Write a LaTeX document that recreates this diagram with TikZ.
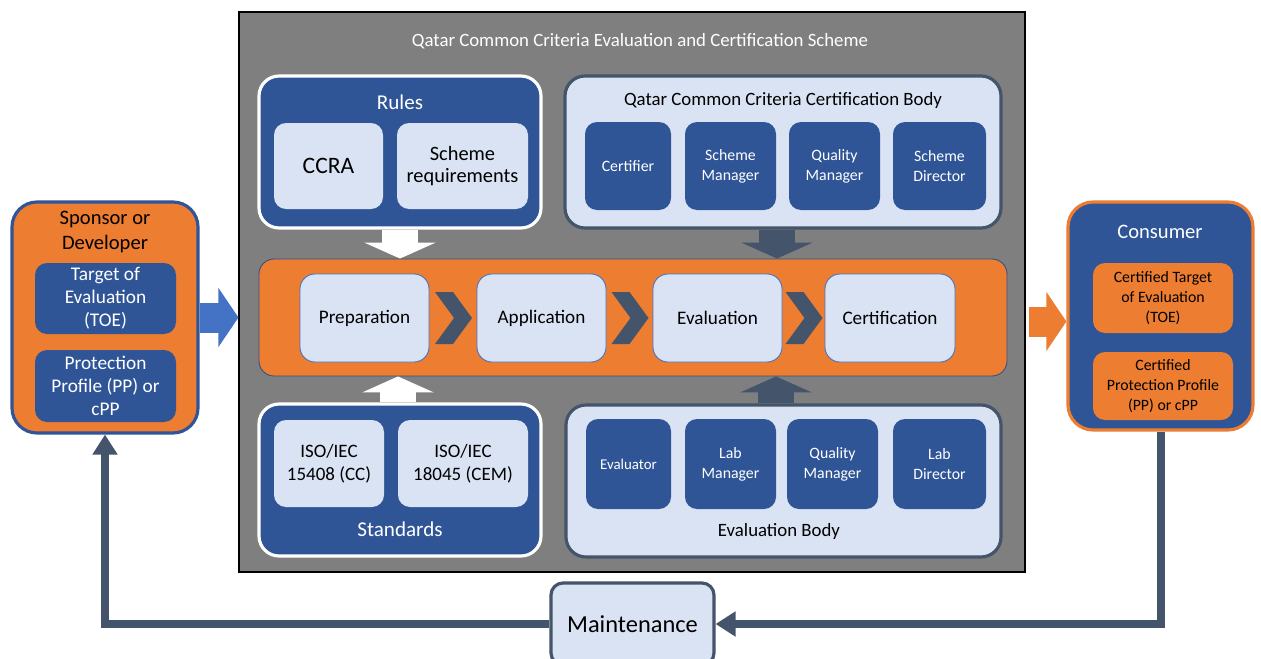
\documentclass[tikz,border=0pt]{standalone}
\usepackage{fontspec}
\setmainfont{Carlito}
\usetikzlibrary{calc,arrows.meta}

\definecolor{qblue}{HTML}{2F5597}
\definecolor{qlight}{HTML}{DAE3F3}
\definecolor{qorange}{HTML}{ED7D31}
\definecolor{qslate}{HTML}{44546A}
\definecolor{qgray}{HTML}{7F7F7F}
\definecolor{qarrow}{HTML}{4472C4}

\tikzset{
  sz/.style 2 args={minimum width=#1*0.2mm, minimum height=#2*0.2mm},
  darkgroup/.style={fill=qblue, draw=white, line width=1.8pt, rounded corners=4mm},
  lightgroup/.style={fill=qlight, draw=qslate, line width=1.8pt, rounded corners=4mm},
  lightitem/.style={fill=qlight, rounded corners=2.4mm, text=black},
  roleitem/.style={fill=qblue, rounded corners=2.4mm, text=white, font=\fontsize{9}{11.3}\selectfont},
  stage/.style={fill=qlight, draw=qarrow, line width=0.5pt, rounded corners=3mm, font=\fontsize{10.9}{12}\selectfont},
  heading/.style={font=\fontsize{10.7}{12}\selectfont},
  blockarrow/.style={line width=7.2mm, -{Triangle[width=14.2mm, length=3.2mm]}},
  sidearrow/.style={line width=6mm, -{Triangle[width=11.6mm, length=4mm]}},
  feedback/.style={draw=qslate, line width=1.6mm, -{Triangle[width=4.8mm, length=4mm]}}
}

\begin{document}
\begin{tikzpicture}[x=0.2mm, y=-0.2mm, every node/.style={inner sep=0pt, align=center}]
\useasboundingbox (0,0) rectangle (1261,659);

% the scheme
\node[fill=qgray, draw=black, line width=0.6pt, sz={786}{560}] (scheme) at (632,292) {};
\node[heading, text=white] (schemetitle) at (640,41) {Qatar Common Criteria Evaluation and Certification Scheme};

% rules
\node[darkgroup, sz={282}{152}] (rules) at (400,152) {};
\node[text=white, font=\fontsize{12}{14}\selectfont] (rulestitle) at (400,102) {Rules};
\node[lightitem, sz={109}{86}, font=\fontsize{13.4}{15}\selectfont] (ccra) at (328.5,166) {CCRA};
\node[lightitem, sz={131}{86}, font=\fontsize{11.6}{13}\selectfont] (schreq) at (462.5,166) {Scheme\\requirements};

% certification body
\node[lightgroup, sz={436}{152}] (certbody) at (783,152) {};
\node[heading] (certbodytitle) at (783,100) {Qatar Common Criteria Certification Body};
\node[roleitem, sz={86}{88}] (certifier) at (628,166) {Certifier};
\node[roleitem, sz={91}{88}] (schmgr) at (730.5,166) {Scheme\\Manager};
\node[roleitem, sz={91}{88}] (qualmgr) at (834.5,166) {Quality\\Manager};
\node[roleitem, sz={93}{88}] (schdir) at (939.5,166) {Scheme\\Director};

% process
\node[fill=qorange, draw=qarrow!70!black, line width=0.5pt, rounded corners=3mm, sz={748}{117}] (band) at (633,317.5) {};
\node[stage, sz={129}{88}] (prep) at (364.5,318) {Preparation};
\node[stage, sz={129}{88}] (appl) at (541.5,318) {Application};
\node[stage, sz={129}{88}] (evalu) at (717.5,318) {Evaluation};
\node[stage, sz={130}{88}] (cert) at (890,318) {Certification};
\foreach \a/\b in {prep/appl, appl/evalu, evalu/cert}
  \fill[qslate] ($(\a.east)!.5!(\b.west)+(-18,-26)$) -- ++(18,0) -- ++(19,26) -- ++(-19,26) -- ++(-18,0) -- ++(19,-26) -- cycle;

% standards
\node[darkgroup, sz={282}{152}] (standards) at (400,480) {};
\node[lightitem, sz={110}{87}, font=\fontsize{10.8}{13}\selectfont] (iso1) at (329,463.5) {ISO/IEC\\15408 (CC)};
\node[lightitem, sz={130}{87}, font=\fontsize{10.8}{13}\selectfont] (iso2) at (463,463.5) {ISO/IEC\\18045 (CEM)};
\node[text=white, font=\fontsize{12}{14}\selectfont] (standardstitle) at (400,529) {Standards};

% evaluation body
\node[lightgroup, sz={435}{152}] (evalbody) at (783.5,481) {};
\node[roleitem, sz={85}{90}, font=\fontsize{8.5}{11}\selectfont] (evaluator) at (628.5,464) {Evaluator};
\node[roleitem, sz={91}{90}] (labmgr) at (730.5,464) {Lab\\Manager};
\node[roleitem, sz={91}{90}] (qmgr) at (832.5,464) {Quality\\Manager};
\node[roleitem, sz={93}{90}] (labdir) at (939.5,464) {Lab\\Director};
\node[heading] (evalbodytitle) at (779,531) {Evaluation Body};

% sponsor and consumer
\node[fill=qorange, draw=qblue, line width=1.8pt, rounded corners=5mm, sz={186}{231}] (sponsor) at (105,317.5) {};
\node[font=\fontsize{11.7}{14.2}\selectfont] (sponsortitle) at (105,232) {Sponsor or\\Developer};
\node[fill=qblue, rounded corners=2.4mm, text=white, sz={141}{71}, font=\fontsize{11}{13}\selectfont] (toe) at (105.5,298.5) {Target of\\Evaluation\\(TOE)};
\node[fill=qblue, rounded corners=2.4mm, text=white, sz={141}{72}, font=\fontsize{11}{13}\selectfont] (pp) at (105.5,386) {Protection\\Profile (PP) or\\cPP};

\node[fill=qblue, draw=qorange, line width=1.8pt, rounded corners=5mm, sz={185}{228}] (consumer) at (1160.5,316) {};
\node[text=white, font=\fontsize{11.7}{13.6}\selectfont] (consumertitle) at (1160,232) {Consumer};
\node[fill=qorange, rounded corners=2.4mm, sz={140}{70}, font=\fontsize{9}{11.3}\selectfont] (ctoe) at (1163,298) {Certified Target\\of Evaluation\\(TOE)};
\node[fill=qorange, rounded corners=2.4mm, sz={140}{68}, font=\fontsize{9}{11.3}\selectfont] (cpp) at (1163,386) {Certified\\Protection Profile\\(PP) or cPP};

% maintenance
\node[fill=qlight, draw=qslate, line width=1.8pt, rounded corners=2.4mm, sz={163}{82}, font=\fontsize{13.9}{16}\selectfont] (maint) at (632.5,624) {Maintenance};

% arrows
\draw[blockarrow, white] (rules.south) -- (rules.south |- band.north);
\draw[blockarrow, qslate] ([xshift=-1.2mm]certbody.south) -- ([xshift=-1.2mm]certbody.south |- band.north);
\draw[blockarrow, white] ([xshift=-0.4mm]standards.north) -- ([xshift=-0.4mm]standards.north |- band.south);
\draw[blockarrow, qslate] ([xshift=-1.5mm]evalbody.north) -- ([xshift=-1.5mm]evalbody.north |- band.south);
\draw[sidearrow, qarrow] (sponsor.east) -- (sponsor.east -| scheme.west);
\draw[sidearrow, qorange, shorten <=0.6mm] ([yshift=-1.1mm]consumer.west -| scheme.east) -- ([yshift=-1.1mm]consumer.west);
\draw[feedback] (consumer.south) |- (maint.east);
\draw[feedback] (maint.west) -| (sponsor.south);
\end{tikzpicture}
\end{document}
